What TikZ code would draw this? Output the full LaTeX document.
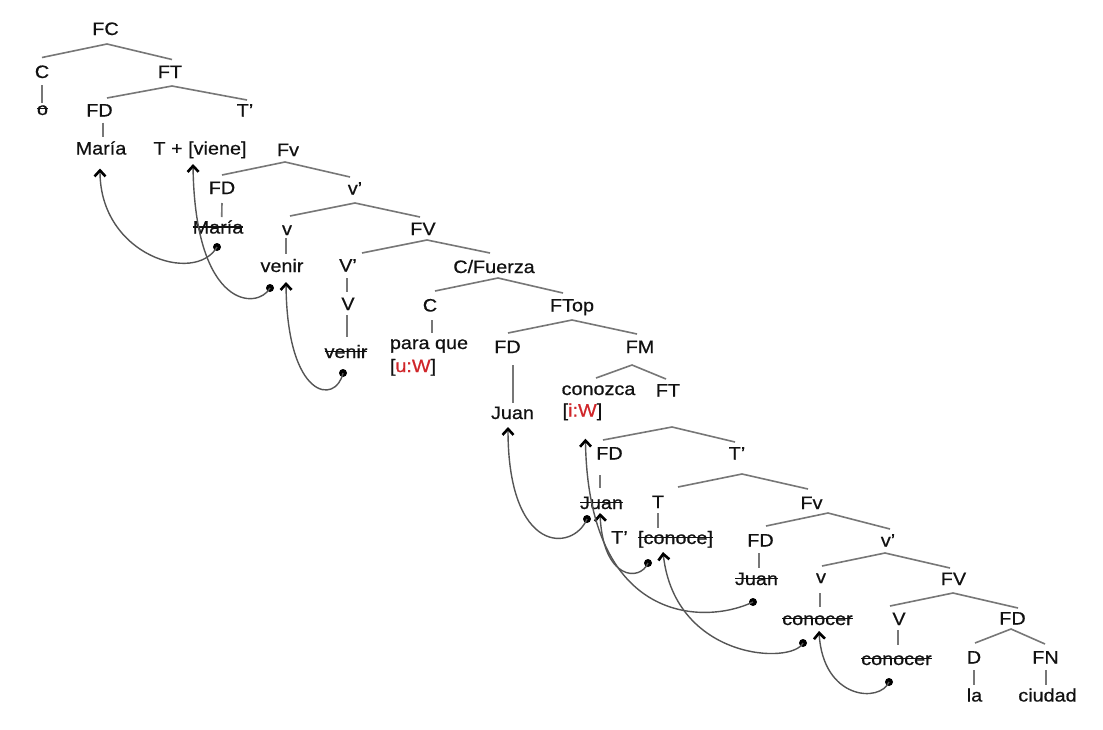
\documentclass[tikz,border=0pt]{standalone}
\usepackage{fontspec}
\setmainfont{Liberation Sans}[FakeStretch=1.1,FakeBold=0.6]
\usetikzlibrary{arrows.meta,calc}
\definecolor{txt}{HTML}{111111}
\definecolor{brc}{HTML}{777777}
\definecolor{mvc}{HTML}{555555}
\definecolor{redw}{HTML}{D0262A}
\newsavebox\strkbox
\newcommand\strk[1]{\sbox\strkbox{#1}\rlap{\usebox\strkbox}\rule[6pt]{\wd\strkbox}{1.2pt}}
\tikzset{
  lab/.style={inner sep=1pt, text height=13pt, text depth=4pt, font=\fontsize{18}{20}\selectfont, text=txt},
  br/.style={draw=brc, line width=1.6pt},
  mv/.style={draw=mvc, line width=1.4pt, -{Straight Barb[length=6pt,width=11pt,line width=2.6pt,color=black]}},
  dot/.style={circle, fill=black, inner sep=0pt, minimum size=8pt},
}
\begin{document}
\begin{tikzpicture}[x=1pt,y=-1pt]
\useasboundingbox (0,0) rectangle (1103,729);
\fill[white] (0,0) rectangle (1103,729);
\begin{scope}[every node/.style={lab}]
\node (FC) at (105.5,30.5) {FC};
\node (C1) at (42,73.5) {C};
\node (FT1) at (170,73.5) {FT};
\node (o) at (42.5,110.5) {\strk{o}};
\node (FD1) at (99.5,112) {FD};
\node (Tp1) at (245,112) {T’};
\node (M1) at (101,150) {María};
\node (Tv) at (200,150) {T + [viene]};
\node (Fv1) at (288,151.5) {Fv};
\node (FD2) at (222,189.5) {FD};
\node (vp1) at (355,190) {v’};
\node (M2) at (218,229) {\strk{María}};
\node (v1) at (287,230.5) {v};
\node (FV1) at (423,230.5) {FV};
\node (ven1) at (282,267.5) {venir};
\node (Vp) at (348,267) {V’};
\node (CF) at (494,268.5) {C/Fuerza};
\node (V1) at (348,305.5) {V};
\node (C2) at (430,307) {C};
\node (FTop) at (572,307) {FTop};
\node (ven2) at (346,353.5) {\strk{venir}};
\node (pq) at (429,344.5) {para que};
\node (uW) [anchor=west] at ($(pq.west)+(0,23)$) {[\textcolor{redw}{u:W}]};
\node (FD3) at (507.5,348.5) {FD};
\node (FM) at (640,348.5) {FM};
\node (con) at (598.5,390.5) {conozca};
\node (iW) [anchor=west] at ($(con.west)+(1,21.5)$) {[\textcolor{redw}{i:W}]};
\node (FT2) at (668,392) {FT};
\node (J1) at (512.5,414.5) {Juan};
\node (FD4) at (609.5,455) {FD};
\node (Tp2) at (737,455) {T’};
\node (J2) at (601.5,504.5) {\strk{Juan}};
\node (T) at (658,503.5) {T};
\node (Tp3) at (619.5,539) {T’};
\node (cnc) at (675.5,539.5) {\strk{[conoce]}};
\node (Fv2) at (811.5,504.5) {Fv};
\node (FD5) at (760.5,542) {FD};
\node (vp2) at (888,542) {v’};
\node (J3) at (756.5,580.5) {\strk{Juan}};
\node (v2) at (821,578.5) {v};
\node (FV2) at (953.5,580.5) {FV};
\node (cr1) at (817.5,620.5) {\strk{conocer}};
\node (V2) at (899,620.5) {V};
\node (FD6) at (1012.5,620) {FD};
\node (cr2) at (896.5,660.5) {\strk{conocer}};
\node (D) at (974,659) {D};
\node (FN) at (1045.5,659) {FN};
\node (la) at (974.5,697) {la};
\node (ciu) at (1047.5,697) {ciudad};
\end{scope}
% branches (tents)
\draw[br] ($(C1)+(0,-16)$) -- ($(FC)+(1.5,13.5)$) -- ($(FT1)+(2,-14)$);
\draw[br] ($(FD1)+(7.5,-14)$) -- ($(FT1)+(2,12.5)$) -- ($(Tp1)+(2,-12)$);
\draw[br] ($(FD2)+(0,-14.5)$) -- ($(Fv1)+(-3,10.5)$) -- ($(vp1)+(-5,-13)$);
\draw[br] ($(v1)+(3,-14.5)$) -- ($(vp1)+(0,13)$) -- ($(FV1)+(-3,-13.5)$);
\draw[br] ($(Vp)+(14,-14)$) -- ($(FV1)+(4,9.5)$) -- ($(CF)+(-4,-15.5)$);
\draw[br] ($(C2)+(5,-16)$) -- ($(CF)+(4,9.5)$) -- ($(FTop)+(-9,-14)$);
\draw[br] ($(FD3)+(0.5,-15.5)$) -- ($(FTop)+(0,13)$) -- ($(FM)+(-3,-14.5)$);
\draw[br] ($(con)+(-2.5,-12.5)$) -- ($(FM)+(-8,16.5)$) -- ($(FT2)+(-2,-13)$);
\draw[br] ($(FD4)+(-6.5,-15)$) -- ($(FT2)+(4,35)$) -- ($(Tp2)+(-2,-13)$);
\draw[br] ($(T)+(20,-16.5)$) -- ($(Tp2)+(5,19)$) -- ($(Fv2)+(-3.5,-15.5)$);
\draw[br] ($(FD5)+(5.5,-16)$) -- ($(Fv2)+(16.5,8.5)$) -- ($(vp2)+(2,-13)$);
\draw[br] ($(v2)+(1,-12.5)$) -- ($(vp2)+(-3,11)$) -- ($(FV2)+(-3.5,-12.5)$);
\draw[br] ($(V2)+(-9,-14.5)$) -- ($(FV2)+(-0.5,12.5)$) -- ($(FD6)+(5.5,-12)$);
\draw[br] ($(D)+(1,-16)$) -- ($(FD6)+(-1.5,9)$) -- ($(FN)+(-0.5,-15)$);
% unary branches
\draw[br] ($(C1)+(0,11.5)$) -- ($(o)+(-0.5,-7.5)$);
\draw[br] ($(FD1)+(3.5,10.7)$) -- ($(M1)+(2,-12.8)$);
\draw[br] ($(FD2)+(0,13.5)$) -- ($(M2)+(3.7,-12)$);
\draw[br] ($(v1)+(-1,7.5)$) -- ($(ven1)+(4,-13.5)$);
\draw[br] ($(Vp)+(-1.3,11)$) -- ($(V1)+(-1.3,-13.5)$);
\draw[br] ($(V1)+(-1.3,9.5)$) -- ($(ven2)+(0.7,-16.5)$);
\draw[br] ($(C2)+(1.7,13)$) -- ($(pq)+(2.7,-11.5)$);
\draw[br] ($(FD3)+(5.2,16.5)$) -- ($(J1)+(0.2,-11.5)$);
\draw[br] ($(FD4)+(-9.5,20)$) -- ($(J2)+(-1.5,-16.5)$);
\draw[br] ($(T)+(0,9.5)$) -- ($(cnc)+(-17.5,-11.5)$);
\draw[br] ($(FD5)+(-1.5,11)$) -- ($(J3)+(2.5,-12.5)$);
\draw[br] ($(v2)+(-1,14.5)$) -- ($(cr1)+(2.5,-13.5)$);
\draw[br] ($(V2)+(-1.3,9.5)$) -- ($(cr2)+(1.2,-15.5)$);
\draw[br] ($(D)+(0,11)$) -- ($(la)+(-0.5,-12)$);
\draw[br] ($(FN)+(0.5,11)$) -- ($(ciu)+(-1.5,-12)$);
% movement dots and tips
\node[dot] (d1) at ($(M2)+(-1,18)$) {};
\node[dot] (d2) at ($(ven1)+(-12,20.5)$) {};
\node[dot] (d3) at ($(ven2)+(-3,19.5)$) {};
\node[dot] (d4) at ($(J2)+(-14.5,14.5)$) {};
\node[dot] (d5) at ($(cnc)+(-27.5,23.5)$) {};
\node[dot] (d6) at ($(J3)+(-3.5,21.5)$) {};
\node[dot] (d7) at ($(cr1)+(-14.5,22.5)$) {};
\node[dot] (d8) at ($(cr2)+(-7.5,21.5)$) {};
\coordinate (t1) at ($(M1)+(-1,18.5)$);
\coordinate (t2) at ($(Tv)+(-7,14)$);
\coordinate (t3) at ($(ven1)+(4,14.5)$);
\coordinate (t4) at ($(J1)+(-4.5,12.5)$);
\coordinate (t5) at ($(J2)+(-1.5,8.5)$);
\coordinate (t6) at ($(iW.south)+(3,17)$);
\coordinate (t7) at ($(cnc)+(-12.5,12.5)$);
\coordinate (t8) at ($(cr1)+(1.5,10.5)$);
\draw[mv] (d1.center) .. controls +(-22,38) and +(0,87) .. (t1);
\draw[mv] (d2.center) .. controls +(-12,22) and +(2,146) .. (t2);
\draw[mv] (d3.center) .. controls +(-7,32) and +(1,118) .. (t3);
\draw[mv] (d4.center) .. controls +(-14,33) and +(0,128) .. (t4);
\draw[mv] (d5.center) .. controls +(-8,19) and +(3,67) .. (t5);
\draw[mv] (d6.center) .. controls +(-48,23) and +(3,186) .. (t6);
\draw[mv] (d7.center) .. controls +(-11,22) and +(12,108) .. (t7);
\draw[mv] (d8.center) .. controls +(-9,21) and +(4,69) .. (t8);
\end{tikzpicture}
\end{document}
